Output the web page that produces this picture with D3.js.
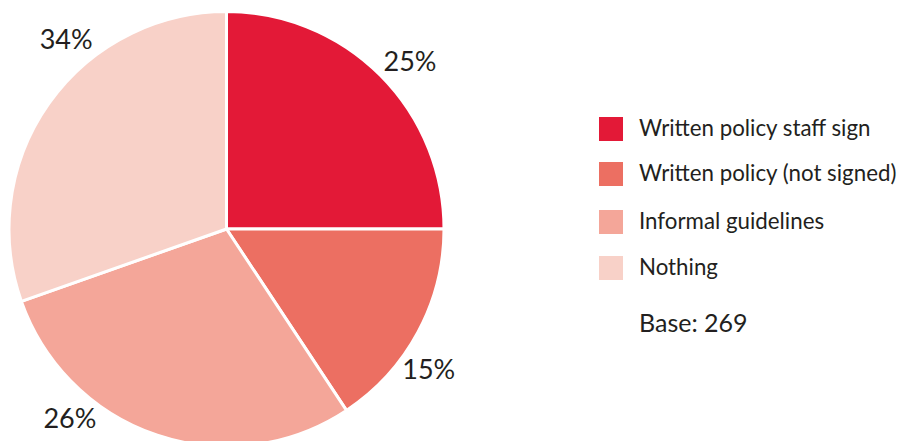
<!DOCTYPE html>
<html><head><meta charset="utf-8">
<script src="https://cdn.jsdelivr.net/npm/d3@7"></script>
<style>
html,body{margin:0;padding:0;background:#fff;}
svg{display:block;}
text{font-family:Lato,"Open Sans",sans-serif;fill:#231F20;}
</style></head>
<body><svg id="chart" width="901" height="441"></svg>
<script>
const categories = ["Written policy staff sign","Written policy (not signed)","Informal guidelines","Nothing"];
// slice sizes as drawn in the reference picture
const values = [25, 15.7, 28.9, 30.4];
// printed labels
const labels = ["25%","15%","26%","34%"];
const colors = ["#E31937","#EC6F62","#F4A699","#F8D1C8"];
const baseNote = "Base: 269";

const svg = d3.select("#chart");
const cx = 226.5, cy = 229, r = 217.5;
const g = svg.append("g").attr("transform",`translate(${cx},${cy})`);

const pie = d3.pie().sort(null).value(d=>d);
const arcs = pie(values);
const arc = d3.arc().innerRadius(0).outerRadius(r);

g.selectAll("path").data(arcs).join("path")
  .attr("d",arc)
  .attr("fill",(d,i)=>colors[i])
  .attr("stroke","#fff").attr("stroke-width",3).attr("stroke-linejoin","round");

// label placement: fraction along each slice's angle span, at a fixed radius
const labelRadius = 247;
const labelFrac = [0.533, 0.62, 0.70, 0.63];
const la = (d,i)=>d.startAngle+(d.endAngle-d.startAngle)*labelFrac[i];
g.selectAll("text.lbl").data(arcs).join("text")
  .attr("class","lbl")
  .attr("x",(d,i)=>Math.sin(la(d,i))*labelRadius)
  .attr("y",(d,i)=>-Math.cos(la(d,i))*labelRadius - 2)
  .attr("text-anchor","middle").attr("dy","0.36em")
  .style("font-size","27px")
  .text((d,i)=>labels[i]);

// legend
const legY = [117,162,210,256];
const lg = svg.append("g");
lg.selectAll("rect").data(categories).join("rect")
  .attr("x",599).attr("y",(d,i)=>legY[i]).attr("width",24).attr("height",24)
  .attr("fill",(d,i)=>colors[i]);
lg.selectAll("text").data(categories).join("text")
  .attr("x",639).attr("y",(d,i)=>legY[i]+19)
  .style("font-size","22.3px")
  .text(d=>d);
svg.append("text").attr("x",639).attr("y",332).style("font-size","25px").text(baseNote);
</script></body></html>
